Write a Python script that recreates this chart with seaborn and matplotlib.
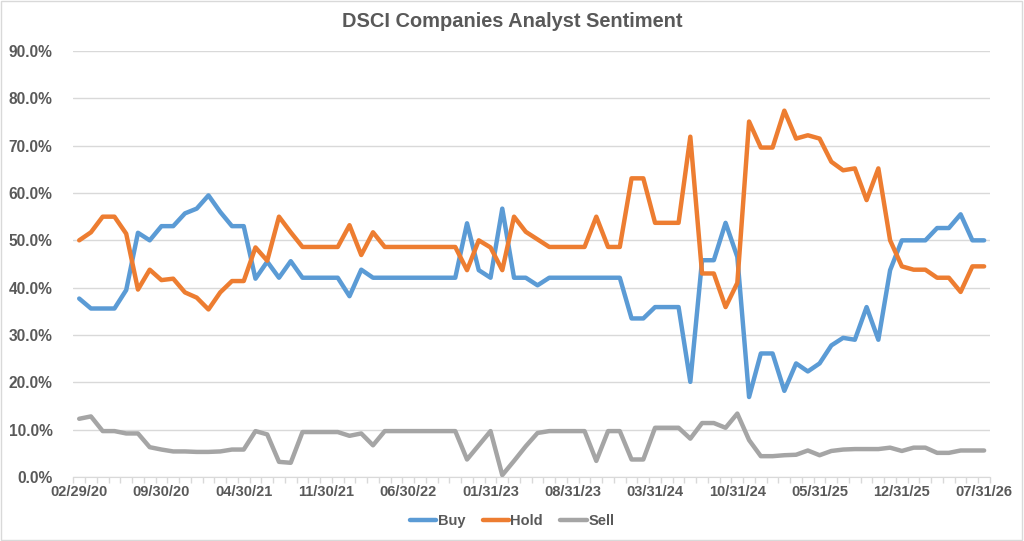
import matplotlib.pyplot as plt
import matplotlib.ticker as mtick
import numpy as np
import pandas as pd
import seaborn as sns

# monthly month-end categories, 02/29/20 .. 07/31/26
months = pd.date_range("2020-02-29", periods=78, freq="ME")

buy = [37.7, 35.6, 35.6, 35.6, 39.5, 51.6, 50.0, 53.0, 53.0, 55.7,
       56.7, 59.5, 56.0, 53.0, 53.0, 41.9, 45.5, 42.1, 45.6, 42.1,
       42.1, 42.1, 42.1, 38.2, 43.8, 42.1,
       42.1, 42.1, 42.1, 42.1, 42.1, 42.1, 42.1,
       53.6, 43.7, 42.1, 56.7, 42.1, 42.1, 40.5, 42.1,
       42.1, 42.1, 42.1, 42.1, 42.1, 42.1,
       33.5, 33.5, 35.9, 35.9, 35.9, 20.1,
       45.8, 45.8, 53.7, 46.5, 16.9, 26.1, 26.1, 18.2, 24.0, 22.3,
       24.0, 27.8, 29.4, 29.0, 35.9, 29.0, 43.7, 50.0, 50.0, 50.0,
       52.6, 52.6, 55.5, 50.0, 50.0]

hold = [50.0, 51.7, 55.0, 55.0, 51.4, 39.6, 43.8, 41.6, 41.9, 39.0,
        37.9, 35.4, 39.0, 41.4, 41.4, 48.5, 45.7, 55.0, 51.7, 48.6,
        48.6, 48.6, 48.6, 53.2, 46.9, 51.7,
        48.6, 48.6, 48.6, 48.6, 48.6, 48.6, 48.6,
        43.7, 50.0, 48.5, 43.7, 55.0, 51.8, 50.2, 48.6,
        48.6, 48.6, 48.6, 55.0, 48.6, 48.6,
        63.1, 63.1, 53.7, 53.7, 53.7, 71.9,
        43.0, 43.0, 35.9, 41.0, 75.1, 69.6, 69.6, 77.4, 71.5, 72.2,
        71.5, 66.6, 64.8, 65.2, 58.5, 65.2, 50.0, 44.5, 43.8, 43.8,
        42.1, 42.1, 39.1, 44.5, 44.5]

sell = [12.3, 12.8, 9.7, 9.7, 9.2, 9.2, 6.3, 5.8, 5.4, 5.4,
        5.3, 5.3, 5.4, 5.8, 5.8, 9.7, 9.0, 3.2, 3.0, 9.5,
        9.5, 9.5, 9.5, 8.7, 9.2, 6.7,
        9.7, 9.7, 9.7, 9.7, 9.7, 9.7, 9.7,
        3.7, 6.7, 9.7, 0.4, 3.4, 6.5, 9.3, 9.7,
        9.7, 9.7, 9.7, 3.4, 9.7, 9.7,
        3.7, 3.7, 10.4, 10.4, 10.4, 8.1,
        11.4, 11.4, 10.4, 13.4, 7.8, 4.4, 4.4, 4.6, 4.7, 5.6,
        4.6, 5.5, 5.8, 5.9, 5.9, 5.9, 6.2, 5.5, 6.2, 6.2,
        5.1, 5.1, 5.6, 5.6, 5.6]

colors = {"Buy": "#5B9BD5", "Hold": "#ED7D31", "Sell": "#A5A5A5"}
txt = "#595959"

df = pd.DataFrame({"idx": np.arange(len(months)), "Buy": buy, "Hold": hold, "Sell": sell})
long = df.melt(id_vars="idx", var_name="Rating", value_name="pct")
long["pct"] = long["pct"] / 100

sns.set_style("white")
plt.rcParams["font.family"] = ["Liberation Sans", "DejaVu Sans"]

fig = plt.figure(figsize=(10.24, 5.41), dpi=100)
ax = fig.add_axes([0.0716, 0.1183, 0.8952, 0.7874])

sns.lineplot(data=long, x="idx", y="pct", hue="Rating", palette=colors,
             linewidth=3.2, ax=ax, legend=False,
             solid_joinstyle="round", solid_capstyle="round")

ax.set_xlim(-0.5, len(months) - 0.5)
ax.set_ylim(0, 0.9)
ax.yaxis.set_major_locator(mtick.MultipleLocator(0.1))
ax.yaxis.set_major_formatter(mtick.PercentFormatter(1.0, decimals=1))
ax.grid(axis="y", color="#D9D9D9", linewidth=1)
ax.set_axisbelow(True)

lab_pos = np.arange(0, len(months), 7)
ax.set_xticks(lab_pos)
ax.set_xticklabels([months[i].strftime("%m/%d/%y") for i in lab_pos])
ax.set_xticks(np.arange(-0.5, len(months)), minor=True)
ax.tick_params(axis="x", which="major", length=0, pad=6)
ax.tick_params(axis="x", which="minor", length=4, color="#D9D9D9", width=1, bottom=True)
ax.tick_params(axis="y", length=0, pad=15)
for lab in ax.get_xticklabels():
    lab.set_fontsize(10.5)
    lab.set_fontweight("bold")
    lab.set_color(txt)
for lab in ax.get_yticklabels():
    lab.set_fontsize(11.2)
    lab.set_fontweight("bold")
    lab.set_color(txt)

for s in ["top", "right", "left"]:
    ax.spines[s].set_visible(False)
ax.spines["bottom"].set_color("#D9D9D9")
ax.set_xlabel("")
ax.set_ylabel("")

fig.text(0.5, 0.96, "DSCI Companies Analyst Sentiment", ha="center", va="center",
         fontsize=14.4, fontweight="bold", color=txt)

handles = [plt.Line2D([], [], color=colors[k], linewidth=3.2) for k in colors]
leg = fig.legend(handles, list(colors), loc="center", bbox_to_anchor=(0.5, 0.037),
                 ncol=3, frameon=False, handlelength=1.8, handletextpad=0.1,
                 columnspacing=1.2, prop={"weight": "bold", "size": 10.5})
for t in leg.get_texts():
    t.set_color(txt)

fig.patches.append(plt.Rectangle((0.001, 0.002), 0.997, 0.996, transform=fig.transFigure,
                                 fill=False, edgecolor="#D9D9D9", linewidth=1))

fig.savefig("out.png", dpi=100)
